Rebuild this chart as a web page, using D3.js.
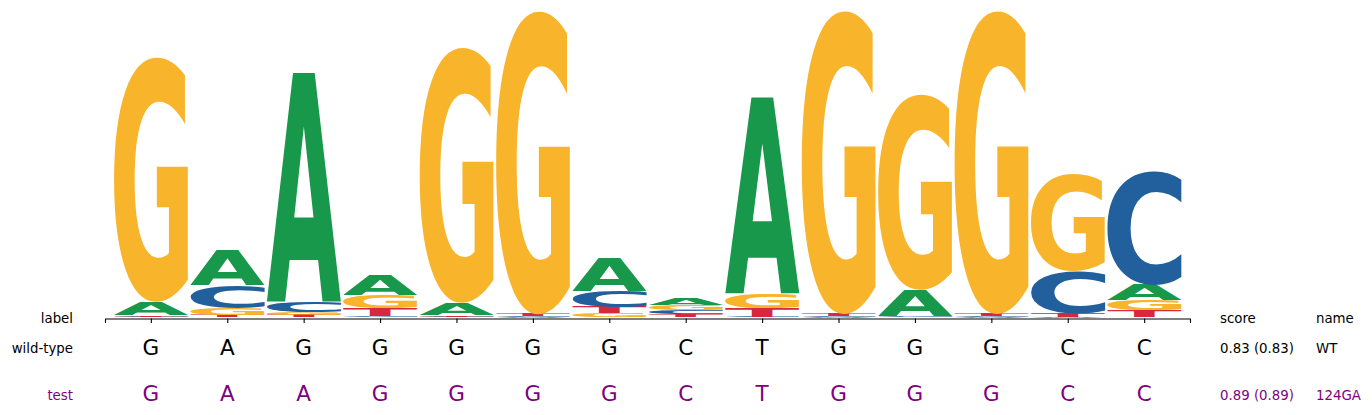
<!DOCTYPE html>
<html>
<head>
<meta charset="utf-8">
<script src="https://cdn.jsdelivr.net/npm/d3@7"></script>
<style>
    body { margin: 0; background: #fff; }
    text { font-family: "DejaVu Sans", sans-serif; }
</style>
</head>
<body>
<div id="main"></div>
<script>
// logo heights (bits) per position, one array per base
const positions = d3.range(14);
const heightsA = [0.084, 0.226, 1.477, 0.129, 0.077, 0.003, 0.213, 0.045, 1.265, 0.003, 0.168, 0.003, 0.004, 0.097];
const heightsC = [0.006, 0.148, 0.071, 0.010, 0.006, 0.004, 0.103, 0.029, 0.004, 0.004, 0.006, 0.004, 0.271, 0.735];
const heightsG = [1.581, 0.045, 0.019, 0.084, 1.652, 1.961, 0.029, 0.032, 0.097, 1.961, 1.265, 1.961, 0.626, 0.065];
const heightsT = [0.010, 0.016, 0.013, 0.052, 0.010, 0.012, 0.039, 0.019, 0.055, 0.013, 0.003, 0.013, 0.023, 0.045];

const wildType = ["G", "A", "G", "G", "G", "G", "G", "C", "T", "G", "G", "G", "C", "C"];
const testSeq = ["G", "A", "A", "G", "G", "G", "G", "C", "T", "G", "G", "G", "C", "C"];
const rowLabels = ["wild-type", "test"];
const rowScores = ["0.83 (0.83)", "0.89 (0.89)"];
const rowNames = ["WT", "124GA"];

const baseColors = { A: "#17984a", C: "#22609d", G: "#f8b42a", T: "#d7283d" };

onload = () => {
    let svg = d3.select("#main").append("svg");
    svg.attr("width", 1372).attr("height", 415);

    let x = d3.scaleLinear().domain([-0.6, 13.6]).range([105, 1190]);
    let y = d3.scaleLinear().domain([0, 2]).range([317.5, 7.5]);

    // measure ink box of each glyph so it can be stretched to its cell
    let ctx = document.createElement("canvas").getContext("2d");
    const fs = 200;
    ctx.font = `bold ${fs}px "DejaVu Sans"`;
    let ink = {};
    ["A", "C", "G", "T"].forEach((b) => {
        let m = ctx.measureText(b);
        ink[b] = {
            x0: -m.actualBoundingBoxLeft,
            x1: m.actualBoundingBoxRight,
            y0: -m.actualBoundingBoxAscent,
            y1: m.actualBoundingBoxDescent
        };
    });

    // build stacks, smallest at bottom
    let stacks = [];
    positions.forEach((i) => {
        let col = [
            { base: "A", v: heightsA[i] },
            { base: "C", v: heightsC[i] },
            { base: "G", v: heightsG[i] },
            { base: "T", v: heightsT[i] }
        ].sort((a, b) => a.v - b.v);
        let acc = 0;
        col.forEach((d) => {
            stacks.push({ pos: i, base: d.base, lo: acc, hi: acc + d.v });
            acc += d.v;
        });
    });

    const halfW = 0.4875;
    svg.append("g")
        .selectAll("text")
        .data(stacks)
        .enter()
        .append("text")
        .attr("font-size", fs)
        .attr("font-weight", "bold")
        .attr("fill", (d) => baseColors[d.base])
        .attr("transform", (d) => {
            let g = ink[d.base];
            let bx0 = x(d.pos - halfW), bx1 = x(d.pos + halfW);
            let by0 = y(d.hi), by1 = y(d.lo);
            let sx = (bx1 - bx0) / (g.x1 - g.x0);
            let sy = (by1 - by0) / (g.y1 - g.y0);
            let tx = bx0 - g.x0 * sx;
            let ty = by0 - g.y0 * sy;
            return `translate(${tx},${ty}) scale(${sx},${sy})`;
        })
        .text((d) => d.base);

    // bottom axis
    let axis = d3.axisBottom(x).tickValues(positions).tickFormat("").tickSizeOuter(0).tickSize(4.5);
    svg.append("g")
        .attr("transform", "translate(0, 318.5)")
        .call(axis)
        .call((g) => g.selectAll("path, line").attr("stroke", "#000").attr("stroke-width", 1.1));

    // header row
    let header = svg.append("g").attr("font-size", 13.33).attr("fill", "#000");
    header.append("text").attr("x", 73).attr("y", 322.5).attr("text-anchor", "end").text("label");
    header.append("text").attr("x", 1220).attr("y", 322.5).text("score");
    header.append("text").attr("x", 1316).attr("y", 322.5).text("name");

    // sequence rows
    let rows = [
        { seq: wildType, color: "#000", base: 355, small: 353 },
        { seq: testSeq, color: "#800080", base: 401, small: 399.5 }
    ];
    rows.forEach((r, k) => {
        let g = svg.append("g").attr("fill", r.color);
        g.append("text").attr("x", 73).attr("y", r.small).attr("text-anchor", "end")
            .attr("font-size", 13.33).text(rowLabels[k]);
        g.selectAll(".seq")
            .data(r.seq)
            .enter()
            .append("text")
            .classed("seq", true)
            .attr("x", (d, i) => x(i))
            .attr("y", r.base)
            .attr("text-anchor", "middle")
            .attr("font-size", 21.5)
            .text((d) => d);
        g.append("text").attr("x", 1220).attr("y", r.small).attr("font-size", 13.33).text(rowScores[k]);
        g.append("text").attr("x", 1316).attr("y", r.small).attr("font-size", 13.33).text(rowNames[k]);
    });
};
</script>
</body>
</html>
